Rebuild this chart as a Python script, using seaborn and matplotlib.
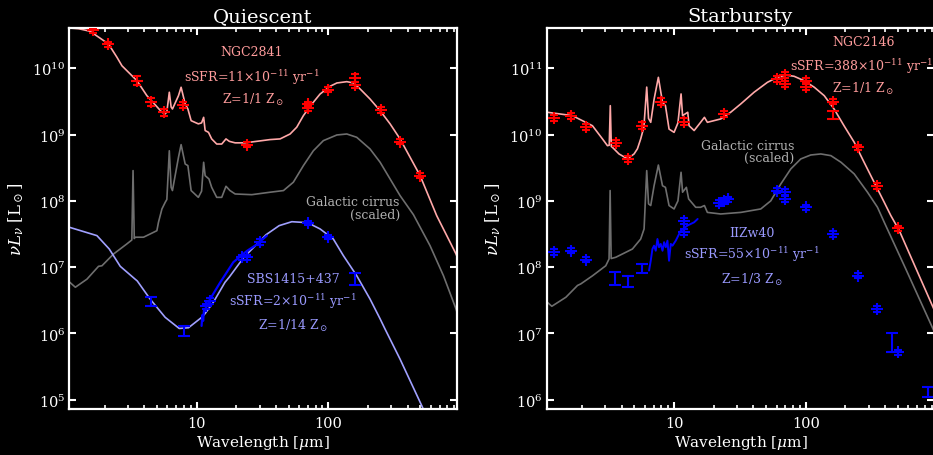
import numpy as np
import matplotlib
matplotlib.use("Agg")
import matplotlib.pyplot as plt
import seaborn as sns
from matplotlib.ticker import FixedLocator, NullLocator, LogLocator, NullFormatter

# ---------------- Quiescent panel ----------------
# NGC2841 model SED
wl_ngc2841_mod = [1.0, 1.27, 1.55, 2.14, 2.48, 2.71, 3.13, 3.52, 4.19, 5.45, 5.77, 5.94, 6.2, 6.4,
                  6.55, 7.28, 7.62, 8.18, 8.58, 9.08, 10.3, 10.9, 11.3, 11.6, 12.3, 13.0, 14.2,
                  15.5, 16.7, 17.7, 19.6, 23.3, 36.1, 43, 51.2, 57.5, 64.6, 72.6, 86.5, 103, 116,
                  138, 155, 174, 207, 247, 294, 350, 417, 497, 664, 931, 1200]
L_ngc2841_mod = [4.1e10, 3.95e10, 3.62e10, 2.33e10, 1.47e10, 1.09e10, 8.2e9, 6.5e9, 3.86e9, 2.17e9,
                 2.05e9, 2.2e9, 4.35e9, 2.6e9, 2.43e9, 3.86e9, 5.17e9, 2.9e9, 2.43e9, 1.62e9,
                 1.45e9, 1.5e9, 1.82e9, 1.15e9, 1.08e9, 8.6e8, 7.2e8, 7.2e8, 8.6e8, 7.9e8, 7.5e8,
                 7.5e8, 8.4e8, 8.6e8, 1.02e9, 1.29e9, 1.93e9, 2.67e9, 4.09e9, 5.35e9, 6.0e9,
                 6.28e9, 6.0e9, 4.88e9, 3.44e9, 2.29e9, 1.45e9, 8.6e8, 4.55e8, 2.4e8, 5.98e7,
                 1.58e7, 4.5e6]
# NGC2841 photometry
wl_ngc2841_obs = [1.63, 2.14, 3.55, 4.5, 5.7, 7.9, 24, 70, 70, 100, 160, 160, 250, 350, 500]
L_ngc2841_obs = [3.72e10, 2.29e10, 6.5e9, 3.13e9, 2.17e9, 2.77e9, 7.05e8, 2.5e9, 2.85e9, 4.75e9,
                 7.2e9, 5.6e9, 2.35e9, 7.8e8, 2.4e8]
err_ngc2841_obs = [0.1, 0.1, 0.18, 0.15, 0.12, 0.12, 0.1, 0.1, 0.1, 0.1, 0.15, 0.12, 0.1, 0.1, 0.1]

# Galactic cirrus (scaled) - quiescent panel
wl_cirrus_q = [1.0, 1.08, 1.20, 1.47, 1.80, 1.91, 2.34, 2.95, 3.22, 3.29, 3.36, 3.41, 3.95, 4.99,
               5.13, 5.45, 5.77, 5.94, 6.2, 6.4, 6.55, 7.28, 7.62, 8.18, 8.58, 9.08, 10.3, 10.9,
               11.3, 11.6, 12.4, 13.0, 14.2, 15.5, 16.7, 17.9, 19.6, 26.2, 36.1, 45.6, 54.2,
               64.6, 76.9, 91.6, 116, 138, 164, 207, 247, 294, 350, 442, 591, 747, 931, 1100]
L_cirrus_q = [6.8e6, 6.0e6, 4.98e6, 6.6e6, 1.03e7, 1.05e7, 1.58e7, 2.24e7, 2.57e7, 2.86e8, 2.7e7,
              2.83e7, 2.83e7, 3.55e7, 4.75e7, 7.55e7, 9.5e7, 1.05e8, 5.7e8, 1.6e8, 1.43e8, 4.55e8,
              7.05e8, 3.6e8, 3.4e8, 1.43e8, 1.13e8, 1.4e8, 3.82e8, 2.4e8, 2.14e8, 1.6e8, 1.13e8,
              1.13e8, 1.66e8, 1.43e8, 1.27e8, 1.24e8, 1.35e8, 1.43e8, 1.91e8, 3.4e8, 5.7e8,
              8.1e8, 9.86e8, 1.02e9, 9.1e8, 6.07e8, 3.82e8, 2.14e8, 1.2e8, 6.2e7, 2.11e7, 7.45e6,
              2.34e6, 8.0e5]

# SBS1415+437 model
wl_sbs_mod = [1.0, 1.08, 1.75, 2.17, 2.63, 3.41, 3.54, 4.43, 5.77, 7.37, 8.67, 11.0, 11.6, 13.4,
              16.4, 17.7, 23.3, 25.0, 33.6, 42.3, 52.8, 69.5, 86.5, 109, 130, 164, 207, 247,
              269, 350, 512, 620]
L_sbs_mod = [4.2e7, 4.0e7, 2.99e7, 1.88e7, 1.03e7, 6.6e6, 6.2e6, 3.31e6, 1.75e6, 1.19e6, 1.22e6,
             1.77e6, 2.0e6, 2.96e6, 5.9e6, 7.1e6, 1.49e7, 1.69e7, 3.08e7, 4.23e7, 4.85e7,
             4.69e7, 3.77e7, 2.66e7, 1.49e7, 7.45e6, 3.31e6, 1.66e6, 1.17e6, 4.1e5, 8.1e4, 3.5e4]
# SBS1415+437 IRS spectrum
wl_sbs_irs = [10.9, 11.05, 11.2, 11.35, 11.6, 11.95, 12.66, 15.1, 19.0, 24.0, 28.6, 34.1]
L_sbs_irs = [1.30e6, 1.9e6, 1.55e6, 2.2e6, 2.3e6, 2.62e6, 3.31e6, 5.9e6, 1.19e7, 1.75e7, 2.2e7, 2.99e7]
# SBS1415+437 photometry (crosses)
wl_sbs_obs = [11.8, 12.66, 22.0, 24.0, 30.3, 70, 100]
L_sbs_obs = [2.57e6, 3.1e6, 1.41e7, 1.41e7, 2.38e7, 4.65e7, 2.86e7]
err_sbs_obs = [0.1, 0.1, 0.1, 0.1, 0.1, 0.08, 0.08]
# SBS1415+437 photometry (error bars only)
wl_sbs_bar = [4.5, 8.0, 160]
L_sbs_bar = [3.06e6, 1.09e6, 6.5e6]
lo_sbs_bar = [2.62e6, 9.3e5, 5.3e6]
hi_sbs_bar = [3.59e6, 1.29e6, 8.1e6]

# ---------------- Starbursty panel ----------------
wl_ngc2146_mod = [1.0, 1.09, 1.69, 2.40, 2.86, 3.12, 3.22, 3.28, 3.34, 3.41, 3.82, 4.43, 4.97,
                  5.27, 5.58, 5.9, 6.2, 6.4, 6.65, 7.05, 7.6, 8.17, 8.6, 9.16, 10.0, 10.7, 11.3,
                  11.6, 12.7, 13.0, 14.2, 15.9, 17.0, 17.9, 22.6, 26.9, 32.1, 40.5, 51.2, 60.9,
                  70.5, 81.5, 97, 116, 138, 164, 195, 233, 277, 330, 394, 442, 511, 937]
L_ngc2146_mod = [2.25e10, 2.17e10, 1.93e10, 1.36e10, 8.6e9, 6.8e9, 6.9e9, 2.73e10, 6.6e9, 6.4e9,
                 5.1e9, 4.3e9, 5.1e9, 6.1e9, 8.6e9, 1.3e10, 5.2e10, 1.75e10, 1.53e10, 3.4e10,
                 7.3e10, 3.07e10, 2.73e10, 1.21e10, 1.08e10, 1.5e10, 4.1e10, 1.93e10, 2.17e10,
                 1.36e10, 1.15e10, 1.53e10, 1.82e10, 1.53e10, 1.72e10, 2.17e10, 2.9e10, 4.35e10,
                 6.15e10, 7.3e10, 7.9e10, 7.57e10, 6.5e10, 5.17e10, 3.86e10, 2.43e10, 1.36e10,
                 7.66e9, 3.82e9, 1.91e9, 9.5e8, 6.0e8, 3.6e8, 2.34e7]
wl_ngc2146_obs = [1.23, 1.64, 2.16, 3.60, 4.48, 5.69, 7.92, 11.9, 24.0, 60, 70, 70, 100, 100,
                  160, 250, 350, 500]
L_ngc2146_obs = [1.78e10, 1.89e10, 1.29e10, 7.5e9, 4.3e9, 1.36e10, 3.13e10, 1.57e10, 2.05e10,
                 6.9e10, 7.9e10, 5.8e10, 6.5e10, 5.2e10, 3.13e10, 6.4e9, 1.69e9, 3.84e8]
err_ngc2146_obs = [0.12, 0.12, 0.12, 0.12, 0.12, 0.12, 0.12, 0.12, 0.12, 0.1, 0.1, 0.1, 0.1, 0.1,
                   0.1, 0.1, 0.1, 0.1]
wl_ngc2146_bar = [160]
L_ngc2146_bar = [1.93e10]
lo_ngc2146_bar = [1.7e10]
hi_ngc2146_bar = [2.3e10]

wl_cirrus_s = [1.0, 1.09, 1.18, 1.51, 1.85, 1.96, 2.40, 3.03, 3.21, 3.27, 3.33, 3.61, 4.83, 5.58,
               5.92, 6.2, 6.4, 6.65, 7.05, 7.6, 8.17, 8.6, 9.16, 10.0, 10.7, 11.3, 11.6, 12.4,
               12.9, 14.6, 15.9, 17.0, 17.9, 22.6, 32.1, 45.5, 54.2, 64.6, 76.9, 91.6, 109, 130,
               155, 185, 233, 294, 350, 394, 574, 937]
L_cirrus_s = [3.4e7, 2.96e7, 2.57e7, 3.52e7, 5.3e7, 5.6e7, 7.4e7, 1.05e8, 1.33e8, 1.43e9, 1.35e8,
              1.41e8, 1.88e8, 2.66e8, 3.77e8, 2.86e9, 9.0e8, 8.5e8, 1.69e9, 3.47e9, 1.69e9, 1.6e9,
              8.5e8, 7.55e8, 1.0e9, 2.7e9, 1.35e9, 1.6e9, 1.07e9, 8.0e8, 8.0e8, 8.5e8, 6.7e8,
              6.34e8, 6.7e8, 7.55e8, 1.0e9, 1.8e9, 3.03e9, 4.29e9, 4.92e9, 5.1e9, 4.81e9, 3.82e9,
              2.55e9, 1.35e9, 8.0e8, 4.75e8, 9.4e7, 1.1e7]

wl_iizw40_irs = [6.46, 6.65, 6.85, 7.05, 7.26, 7.48, 7.69, 7.92, 8.17, 8.4, 8.65, 8.91, 9.16,
                 9.44, 9.73, 10.3, 11.2, 12.6, 14.2, 15.1]
L_iizw40_irs = [8.9e7, 1.25e8, 1.88e8, 2.11e8, 1.77e8, 2.66e8, 2.0e8, 2.24e8, 1.77e8, 2.38e8,
                2.0e8, 2.51e8, 1.25e8, 2.24e8, 2.11e8, 2.51e8, 3.5e8, 4.23e8, 4.75e8, 5.33e8]
wl_iizw40_obs = [1.23, 1.64, 2.16, 11.9, 11.9, 22.0, 24.0, 25.5, 60, 70, 70, 100, 160, 250, 350, 500]
L_iizw40_obs = [1.68e8, 1.77e8, 1.30e8, 5.0e8, 3.4e8, 9.3e8, 1.0e9, 1.05e9, 1.43e9, 1.35e9,
                1.07e9, 8.0e8, 3.17e8, 7.45e7, 2.34e7, 5.2e6]
err_iizw40_obs = [0.1] * 16
wl_iizw40_bar = [3.55, 4.48, 5.75, 450, 850]
L_iizw40_bar = [7.0e7, 6.0e7, 9.6e7, 7.3e6, 1.3e6]
lo_iizw40_bar = [5.3e7, 5.0e7, 8.2e7, 5.2e6, 1.09e6]
hi_iizw40_bar = [8.6e7, 7.3e7, 1.12e8, 1.02e7, 1.55e6]

# ---------------- style ----------------
PINK_LINE = "#ffa8a8"
PINK_TEXT = "#ff9c9c"
RED = "#ff0000"
GRAY_LINE = "#6e6e6e"
GRAY_TEXT = "#b0b0b0"
BLUE_LINE = "#a0a0ff"
BLUE_TEXT = "#9a9aff"
BLUE = "#0000ff"

sns.set_theme(style="ticks")
plt.rcParams.update({
    "figure.facecolor": "black",
    "axes.facecolor": "black",
    "savefig.facecolor": "black",
    "axes.edgecolor": "white",
    "axes.labelcolor": "white",
    "text.color": "white",
    "xtick.color": "white",
    "ytick.color": "white",
    "axes.linewidth": 1.5,
    "mathtext.fontset": "dejavuserif",
})
plt.rcParams["font.family"] = ["DejaVu Serif"]

fig = plt.figure(figsize=(9.33, 4.56), dpi=100)
ax1 = fig.add_axes([0.0743, 0.1009, 0.4152, 0.8349])
ax2 = fig.add_axes([0.5860, 0.1009, 0.4152, 0.8349])


def crosses(ax, wl, L, frac, color):
    L = np.asarray(L, float)
    f = np.asarray(frac, float)
    yerr = [L - L / (1 + f), L * f]
    ax.errorbar(wl, L, yerr=yerr, fmt="+", ms=8, mew=1.5, color=color, ecolor=color,
                elinewidth=1.5, capsize=3, capthick=1.5, zorder=5)


def bars(ax, wl, L, lo, hi, color):
    L = np.asarray(L, float)
    yerr = [L - np.asarray(lo), np.asarray(hi) - L]
    ax.errorbar(wl, L, yerr=yerr, fmt="none", ecolor=color, elinewidth=1.5,
                capsize=4, capthick=1.5, zorder=5)


def style_axes(ax, ylo_exp, yhi_exp, ylim, title):
    ax.set_xscale("log")
    ax.set_yscale("log")
    ax.set_xlim(1.08, 942)
    ax.set_ylim(*ylim)
    ax.xaxis.set_major_locator(FixedLocator([10, 100]))
    ax.set_xticklabels(["10", "100"])
    ax.xaxis.set_minor_locator(LogLocator(base=10, subs=np.arange(2, 10)))
    ax.xaxis.set_minor_formatter(NullFormatter())
    yt = [10.0 ** e for e in range(ylo_exp, yhi_exp + 1)]
    ax.yaxis.set_major_locator(FixedLocator(yt))
    ax.set_yticklabels([rf"$10^{{{e}}}$" for e in range(ylo_exp, yhi_exp + 1)])
    ax.yaxis.set_minor_locator(NullLocator())
    ax.tick_params(which="major", direction="in", length=5, width=1.5, top=True, right=True,
                   labelsize=10.5)
    ax.tick_params(which="minor", direction="in", length=3, width=1.2, top=True, right=True)
    ax.tick_params(axis="x", pad=5)
    ax.tick_params(axis="y", pad=3)
    for s in ax.spines.values():
        s.set_color("white")
        s.set_linewidth(1.6)
    ax.set_title(title, fontsize=14, color="white", pad=5)
    ax.set_xlabel(r"Wavelength [$\mu$m]", fontsize=11)
    ax.set_ylabel(r"$\nu L_\nu$ [L$_\odot$]", fontsize=12)
    ax.xaxis.set_label_coords(0.5, -0.062)
    ax.yaxis.set_label_coords(-0.113, 0.5)


def line(ax, x, y, color, lw=1.2):
    sns.lineplot(x=x, y=y, ax=ax, color=color, linewidth=lw, sort=False, estimator=None,
                 legend=False)


# ---------- left panel ----------
style_axes(ax1, 5, 10, (7.26e4, 4.01e10), "Quiescent")
line(ax1, wl_cirrus_q, L_cirrus_q, GRAY_LINE)
line(ax1, wl_sbs_mod, L_sbs_mod, BLUE_LINE)
line(ax1, wl_ngc2841_mod, L_ngc2841_mod, PINK_LINE)
line(ax1, wl_sbs_irs, L_sbs_irs, BLUE, lw=1.6)
crosses(ax1, wl_ngc2841_obs, L_ngc2841_obs, err_ngc2841_obs, RED)
crosses(ax1, wl_sbs_obs, L_sbs_obs, err_sbs_obs, BLUE)
bars(ax1, wl_sbs_bar, L_sbs_bar, lo_sbs_bar, hi_sbs_bar, BLUE)

tk = dict(transform=ax1.transAxes, fontsize=9, ha="center", va="center")
ax1.text(0.4716, 0.9378, "NGC2841", color=PINK_TEXT, **tk)
ax1.text(0.4716, 0.8719, r"sSFR=11$\times$10$^{-11}$ yr$^{-1}$", color=PINK_TEXT, **tk)
ax1.text(0.474, 0.8143, r"Z=1/1 Z$_\odot$", color=PINK_TEXT, **tk)
ax1.text(0.8532, 0.5437, "Galactic cirrus", color=GRAY_TEXT, transform=ax1.transAxes,
         fontsize=9, ha="right", va="center")
ax1.text(0.8532, 0.5122, "(scaled)", color=GRAY_TEXT, transform=ax1.transAxes,
         fontsize=9, ha="right", va="center")
ax1.text(0.5775, 0.3433, "SBS1415+437", color=BLUE_TEXT, **tk)
ax1.text(0.5775, 0.2845, r"sSFR=2$\times$10$^{-11}$ yr$^{-1}$", color=BLUE_TEXT, **tk)
ax1.text(0.5775, 0.2206, r"Z=1/14 Z$_\odot$", color=BLUE_TEXT, **tk)

# ---------- right panel ----------
style_axes(ax2, 6, 11, (7.26e5, 4.01e11), "Starbursty")
line(ax2, wl_cirrus_s, L_cirrus_s, GRAY_LINE)
line(ax2, wl_ngc2146_mod, L_ngc2146_mod, PINK_LINE)
line(ax2, wl_iizw40_irs, L_iizw40_irs, BLUE, lw=1.4)
crosses(ax2, wl_ngc2146_obs, L_ngc2146_obs, err_ngc2146_obs, RED)
bars(ax2, wl_ngc2146_bar, L_ngc2146_bar, lo_ngc2146_bar, hi_ngc2146_bar, RED)
crosses(ax2, wl_iizw40_obs, L_iizw40_obs, err_iizw40_obs, BLUE)
bars(ax2, wl_iizw40_bar, L_iizw40_bar, lo_iizw40_bar, hi_iizw40_bar, BLUE)

tk2 = dict(transform=ax2.transAxes, fontsize=9, ha="center", va="center")
ax2.text(0.8172, 0.9648, "NGC2146", color=PINK_TEXT, **tk2)
ax2.text(0.8131, 0.9018, r"sSFR=388$\times$10$^{-11}$ yr$^{-1}$", color=PINK_TEXT, **tk2)
ax2.text(0.8165, 0.8424, r"Z=1/1 Z$_\odot$", color=PINK_TEXT, **tk2)
ax2.text(0.6392, 0.6916, "Galactic cirrus", color=GRAY_TEXT, transform=ax2.transAxes,
         fontsize=9, ha="right", va="center")
ax2.text(0.6392, 0.6612, "(scaled)", color=GRAY_TEXT, transform=ax2.transAxes,
         fontsize=9, ha="right", va="center")
ax2.text(0.5292, 0.4641, "IIZw40", color=BLUE_TEXT, **tk2)
ax2.text(0.5292, 0.4071, r"sSFR=55$\times$10$^{-11}$ yr$^{-1}$", color=BLUE_TEXT, **tk2)
ax2.text(0.5292, 0.3415, r"Z=1/3 Z$_\odot$", color=BLUE_TEXT, **tk2)

fig.savefig("out.png", dpi=100, facecolor="black")
